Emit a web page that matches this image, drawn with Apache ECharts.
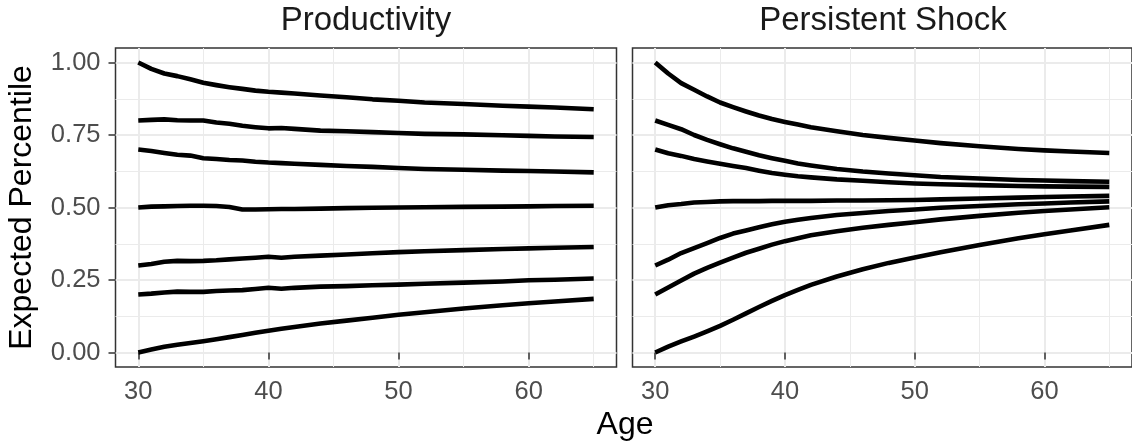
<!DOCTYPE html>
<html>
<head>
<meta charset="utf-8">
<script src="https://cdn.jsdelivr.net/npm/echarts@6/dist/echarts.min.js"></script>
<style>
  html, body { margin: 0; padding: 0; background: #ffffff; }
  #chart { width: 1132px; height: 444px; }
</style>
</head>
<body>
<div id="chart"></div>
<script>
// Ages at which the expected percentile is recorded
const ages = [30,31,32,33,34,35,36,37,38,39,40,41,42,44,46,48,50,52,55,58,60,62,65];

// Panel titles and axis labels
const panelTitles = ['Productivity', 'Persistent Shock'];
const xTickValues = [30, 40, 50, 60];
const xMinorValues = [35, 45, 55, 65];
const yTickValues = [0, 0.25, 0.5, 0.75, 1];
const yMinorValues = [0.125, 0.375, 0.625, 0.875];

// Productivity: paths by starting percentile
const prod100 = [1.000,0.978,0.962,0.953,0.942,0.930,0.922,0.915,0.909,0.903,0.899,0.896,0.893,0.886,0.880,0.873,0.868,0.862,0.857,0.851,0.848,0.845,0.839];
const prod80  = [0.800,0.802,0.804,0.801,0.800,0.800,0.793,0.789,0.782,0.777,0.773,0.774,0.771,0.765,0.763,0.760,0.757,0.754,0.752,0.749,0.747,0.745,0.743];
const prod70  = [0.700,0.695,0.688,0.682,0.679,0.670,0.667,0.664,0.662,0.658,0.655,0.653,0.651,0.647,0.643,0.640,0.636,0.633,0.630,0.627,0.626,0.624,0.621];
const prod50  = [0.500,0.503,0.504,0.505,0.506,0.506,0.505,0.502,0.493,0.493,0.494,0.495,0.495,0.496,0.498,0.499,0.500,0.501,0.502,0.503,0.504,0.505,0.506];
const prod30  = [0.300,0.305,0.313,0.316,0.315,0.316,0.318,0.321,0.324,0.327,0.330,0.327,0.330,0.334,0.338,0.342,0.346,0.349,0.353,0.357,0.359,0.361,0.364];
const prod20  = [0.200,0.203,0.207,0.210,0.209,0.209,0.212,0.214,0.215,0.219,0.223,0.220,0.223,0.227,0.229,0.232,0.234,0.237,0.241,0.245,0.249,0.251,0.255];
const prod0   = [0.000,0.010,0.020,0.027,0.033,0.039,0.046,0.053,0.060,0.068,0.075,0.082,0.088,0.100,0.110,0.120,0.130,0.139,0.152,0.163,0.170,0.176,0.185];

// Persistent shock: paths by starting percentile
const shock100 = [1.000,0.962,0.929,0.906,0.883,0.862,0.846,0.831,0.817,0.805,0.795,0.786,0.777,0.763,0.750,0.740,0.731,0.722,0.711,0.702,0.697,0.693,0.688];
const shock80  = [0.800,0.785,0.770,0.750,0.733,0.718,0.704,0.692,0.680,0.670,0.661,0.652,0.645,0.633,0.624,0.617,0.611,0.605,0.600,0.595,0.593,0.591,0.589];
const shock70  = [0.700,0.687,0.678,0.667,0.659,0.651,0.643,0.636,0.627,0.619,0.613,0.608,0.604,0.597,0.592,0.587,0.583,0.580,0.577,0.574,0.573,0.572,0.571];
const shock50  = [0.500,0.508,0.512,0.517,0.519,0.521,0.522,0.522,0.522,0.523,0.523,0.523,0.523,0.524,0.524,0.525,0.526,0.528,0.531,0.534,0.536,0.538,0.540];
const shock30  = [0.300,0.320,0.343,0.360,0.377,0.395,0.410,0.421,0.432,0.442,0.451,0.458,0.464,0.474,0.481,0.488,0.493,0.499,0.505,0.511,0.514,0.517,0.521];
const shock20  = [0.200,0.224,0.248,0.272,0.292,0.310,0.327,0.344,0.358,0.372,0.384,0.394,0.404,0.418,0.430,0.440,0.449,0.459,0.471,0.482,0.488,0.493,0.501];
const shock0   = [0.000,0.020,0.038,0.055,0.073,0.092,0.113,0.135,0.157,0.178,0.198,0.216,0.233,0.262,0.287,0.309,0.328,0.346,0.371,0.394,0.408,0.421,0.440];

const prodPaths = [prod100, prod80, prod70, prod50, prod30, prod20, prod0];
const shockPaths = [shock100, shock80, shock70, shock50, shock30, shock20, shock0];

const FONT = '"Liberation Sans", Arial, Helvetica, sans-serif';
const X_MIN = 28.25, X_MAX = 66.75;   // 30..65 padded by 5%
const Y_MIN = -0.05, Y_MAX = 1.05;    // 0..1 padded by 5%

const grids = [
  { left: 115.5, top: 48, width: 501, height: 319 },
  { left: 632.5, top: 48, width: 501, height: 319 }
].map(g => Object.assign(g, {
  show: true, borderColor: '#333333', borderWidth: 1.5, backgroundColor: 'transparent'
}));

function majorX(gridIndex) {
  return {
    type: 'value', gridIndex, min: X_MIN, max: X_MAX, position: 'bottom',
    axisLine: { show: false },
    axisTick: { show: true, length: 7, customValues: xTickValues, lineStyle: { color: '#333333', width: 1.5 } },
    axisLabel: { customValues: xTickValues, color: '#4d4d4d', fontSize: 25.5, fontFamily: FONT, margin: 12 },
    splitLine: { show: true, lineStyle: { color: '#ebebeb', width: 2 } }
  };
}
function minorX(gridIndex) {
  return {
    type: 'value', gridIndex, min: X_MIN, max: X_MAX, position: 'top',
    axisLine: { show: false },
    axisTick: { show: false, customValues: xMinorValues },
    axisLabel: { show: false, customValues: xMinorValues },
    splitLine: { show: true, lineStyle: { color: '#ebebeb', width: 1 } }
  };
}
function majorY(gridIndex, withLabels) {
  const ax = {
    type: 'value', gridIndex, min: Y_MIN, max: Y_MAX, position: 'left',
    axisLine: { show: false },
    axisTick: { show: withLabels, length: 7, customValues: yTickValues, lineStyle: { color: '#333333', width: 1.5 } },
    axisLabel: {
      show: withLabels, customValues: yTickValues, color: '#4d4d4d', fontSize: 25.5, fontFamily: FONT, margin: 15,
      formatter: v => v.toFixed(2)
    },
    splitLine: { show: true, lineStyle: { color: '#ebebeb', width: 2 } }
  };
  if (withLabels) {
    Object.assign(ax, {
      name: 'Expected Percentile', nameLocation: 'middle', nameRotate: 90, nameGap: 77,
      nameTextStyle: { color: '#000000', fontSize: 32, fontFamily: FONT }
    });
  }
  return ax;
}
function minorY(gridIndex) {
  return {
    type: 'value', gridIndex, min: Y_MIN, max: Y_MAX, position: 'right',
    axisLine: { show: false },
    axisTick: { show: false, customValues: yMinorValues },
    axisLabel: { show: false, customValues: yMinorValues },
    splitLine: { show: true, lineStyle: { color: '#ebebeb', width: 1 } }
  };
}

function pathSeries(values, panel) {
  return {
    type: 'line', xAxisIndex: panel, yAxisIndex: panel,
    data: ages.map((a, i) => [a, values[i]]),
    showSymbol: false, symbol: 'none', smooth: false,
    lineStyle: { color: '#000000', width: 4.6, cap: 'butt', join: 'round' },
    silent: true, z: 5
  };
}

const series = [
  ...prodPaths.map(p => pathSeries(p, 0)),
  ...shockPaths.map(p => pathSeries(p, 1))
];

const chart = echarts.init(document.getElementById('chart'), null, { renderer: 'canvas' });
chart.setOption({
  animation: false,
  backgroundColor: '#ffffff',
  title: [
    { text: panelTitles[0], left: 366, top: 4, textAlign: 'center', padding: 0,
      textStyle: { color: '#1a1a1a', fontSize: 33, fontWeight: 'normal', fontFamily: FONT } },
    { text: panelTitles[1], left: 883, top: 4, textAlign: 'center', padding: 0,
      textStyle: { color: '#1a1a1a', fontSize: 33, fontWeight: 'normal', fontFamily: FONT } },
    { text: 'Age', left: 625, top: 409, textAlign: 'center', padding: 0,
      textStyle: { color: '#000000', fontSize: 32, fontWeight: 'normal', fontFamily: FONT } }
  ],
  grid: grids,
  xAxis: [majorX(0), majorX(1), minorX(0), minorX(1)],
  yAxis: [majorY(0, true), majorY(1, false), minorY(0), minorY(1)],
  series
});
</script>
</body>
</html>
